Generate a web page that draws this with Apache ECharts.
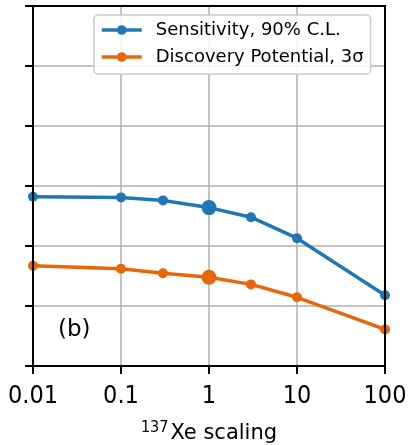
<!DOCTYPE html>
<html>
<head>
<meta charset="utf-8">
<script src="https://cdn.jsdelivr.net/npm/echarts@6/dist/echarts.min.js"></script>
<style>
  html, body { margin: 0; padding: 0; background: #fff; }
  #chart { width: 408px; height: 445px; }
</style>
</head>
<body>
<div id="chart"></div>
<script>
// 137Xe background scaling factors (x) and the two sensitivity curves
const scaling = [0.01, 0.1, 0.3, 1, 3, 10, 100];
const sensitivity = [2.82, 2.81, 2.76, 2.64, 2.48, 2.13, 1.18];
const discovery = [1.67, 1.62, 1.545, 1.48, 1.36, 1.145, 0.61];
const nominalScaling = 1;          // baseline point, drawn with a larger marker
const xTickLabels = ['0.01', '0.1', '1', '10', '100'];
const seriesNames = ['Sensitivity, 90% C.L.', 'Discovery Potential, 3σ'];

const BLUE = '#1f77b4';
const ORANGE = '#e8650a';

function points(values) {
  return scaling.map((x, i) => ({
    value: [x, values[i]],
    symbolSize: x === nominalScaling ? 15 : 10
  }));
}

const chart = echarts.init(document.getElementById('chart'), null, { renderer: 'canvas' });

chart.setOption({
  animation: false,
  backgroundColor: '#fff',
  grid: {
    left: 33, right: 23, top: 6, bottom: 79,
    outerBoundsMode: 'none',
    containLabel: false,
    show: true, borderColor: '#000', borderWidth: 2, backgroundColor: 'transparent',
    z: 10
  },
  legend: {
    orient: 'vertical',
    left: 94, top: 15,
    padding: [6, 7, 8, 6],
    itemWidth: 40, itemHeight: 12, itemGap: 9,
    backgroundColor: 'rgba(255,255,255,0.85)',
    borderColor: '#cccccc', borderWidth: 1.5, borderRadius: 4,
    lineStyle: { width: 3.5 },
    textStyle: { fontFamily: 'DejaVu Sans', fontSize: 18, lineHeight: 18, color: '#000', padding: [0, 0, 0, 9] },
    data: seriesNames
  },
  xAxis: {
    type: 'log', logBase: 10, min: 0.01, max: 100,
    name: '{sup|137}Xe scaling',
    nameLocation: 'middle', nameGap: 54,
    nameTextStyle: {
      fontFamily: 'DejaVu Sans', fontSize: 21, color: '#000',
      rich: {
        sup: { fontFamily: 'DejaVu Sans Condensed', fontSize: 16, color: '#000', verticalAlign: 'top', padding: [0, 2, 12, 0] }
      }
    },
    axisLine: { lineStyle: { color: '#000', width: 2 } },
    axisTick: { show: true, inside: false, length: 8, lineStyle: { color: '#000', width: 2 } },
    minorTick: { show: false },
    axisLabel: {
      margin: 18,
      fontFamily: 'DejaVu Sans Condensed', fontSize: 25, color: '#000',
      formatter: v => {
        const k = Math.round(Math.log10(v)) + 2;
        return xTickLabels[k] !== undefined ? xTickLabels[k] : '';
      }
    },
    splitLine: { show: true, lineStyle: { color: '#b0b0b0', width: 1.5 } }
  },
  yAxis: {
    type: 'value', min: 0, max: 6, interval: 1,
    axisLine: { show: true, lineStyle: { color: '#000', width: 2 } },
    axisTick: { show: true, inside: false, length: 8, lineStyle: { color: '#000', width: 2 } },
    axisLabel: { show: false },
    splitLine: { show: true, lineStyle: { color: '#b0b0b0', width: 1.5 } }
  },
  graphic: [{
    type: 'text', left: 58, top: 319, z: 20,
    style: { text: '(b)', fontFamily: 'DejaVu Sans', fontSize: 23, fill: '#000' }
  }],
  series: [
    {
      name: seriesNames[0], type: 'line', data: points(sensitivity),
      symbol: 'circle', color: BLUE,
      lineStyle: { color: BLUE, width: 3.5 },
      itemStyle: { color: BLUE },
      clip: true, z: 3
    },
    {
      name: seriesNames[1], type: 'line', data: points(discovery),
      symbol: 'circle', color: ORANGE,
      lineStyle: { color: ORANGE, width: 3.5 },
      itemStyle: { color: ORANGE },
      clip: true, z: 3
    }
  ]
});
</script>
</body>
</html>
